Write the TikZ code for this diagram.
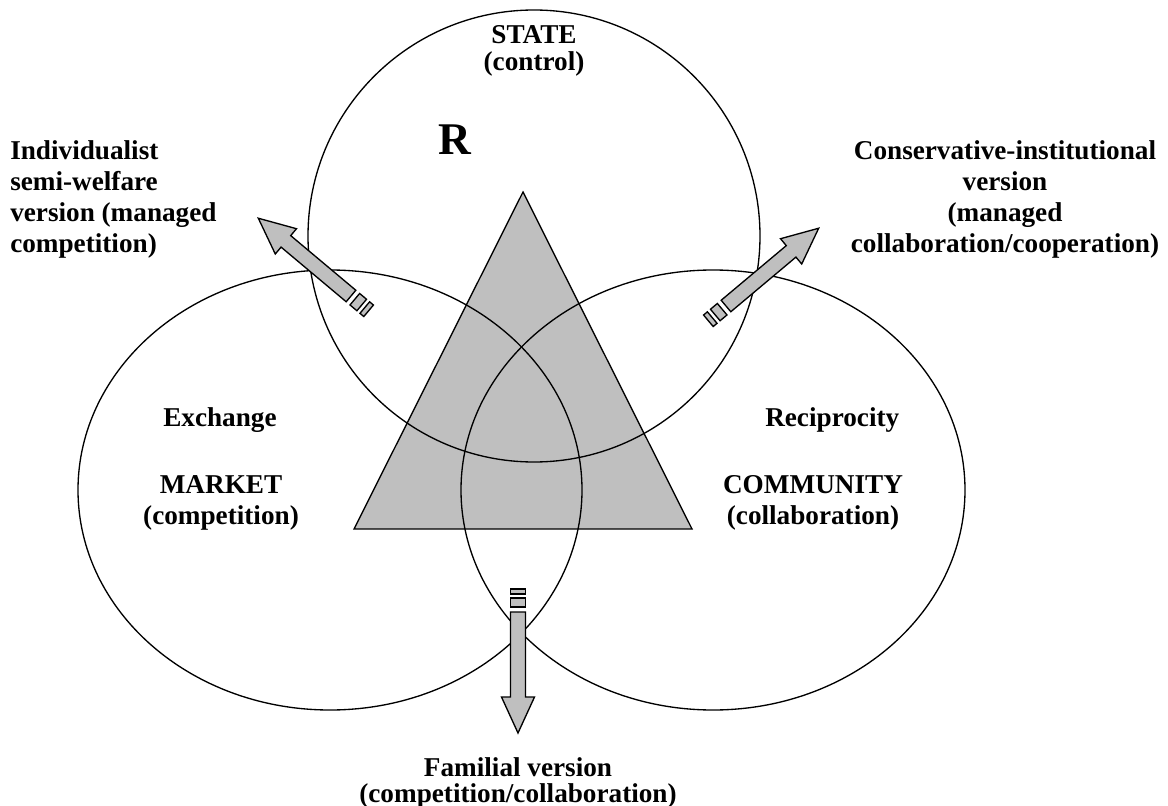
\documentclass[tikz,border=0pt]{standalone}
\usepackage{fontspec}
\setmainfont{Liberation Serif}
\begin{document}
\begin{tikzpicture}[x=0.75pt,y=-0.75pt,
  outline/.style={draw=black,line width=1pt},
  shade/.style={fill=black!25},
  label/.style={font=\bfseries\fontsize{20.4}{23.4}\selectfont,inner sep=0pt},
  blockarrow/.pic={
    % shaft and head, pointing along +x from the tail at the origin
    \draw[outline,shade,line join=miter]
      (0,-7.5) -- (85,-7.5) -- (85,-16.5) -- (121,0) -- (85,16.5) -- (85,7.5) -- (0,7.5) -- cycle;
    % the two stripes behind the tail
    \draw[outline,shade] (-14,-7.5) rectangle (-5,7.5);
    \draw[outline,shade] (-23,-7.5) rectangle (-18,7.5);
  }]
\useasboundingbox (0,0) rectangle (1168,806);

% central triangle
\draw[outline,shade] (523,192) -- (692,529) -- (354,529) -- cycle;

% the three spheres
\draw[outline] (534,236) circle[radius=226];
\draw[outline] (330,490) ellipse[x radius=252,y radius=220];
\draw[outline] (713,490) ellipse[x radius=252,y radius=220];

% direction arrows
\pic[rotate=140] at (351,296) {blockarrow};
\pic[rotate=40]  at (726,306) {blockarrow};
\pic[rotate=-90] at (518,612) {blockarrow};

% labels
\node[label,align=center,font=\bfseries\fontsize{20.4}{20}\selectfont] (state) at (534,51) {STATE\\(control)};
\node[label,font=\bfseries\fontsize{34}{40}\selectfont] (r) at (455,140) {R};
\node[label,align=left,anchor=north west] (indiv) at (10,140)
  {Individualist\\semi-welfare\\version (managed\\competition)};
\node[label,align=center,anchor=north] (cons) at (1005,140)
  {Conservative-institutional\\version\\(managed\\collaboration/cooperation)};
\node[label,anchor=west] (exch) at (163,420) {Exchange};
\node[label,align=center] (market) at (221,503) {MARKET\\(competition)};
\node[label,anchor=west] (recip) at (765,420) {Reciprocity};
\node[label,align=center] (comm) at (813,503) {COMMUNITY\\(collaboration)};
\node[label,align=center,font=\bfseries\fontsize{20.4}{19}\selectfont] (fam) at (518,783)
  {Familial version\\(competition/collaboration)};
\end{tikzpicture}
\end{document}
